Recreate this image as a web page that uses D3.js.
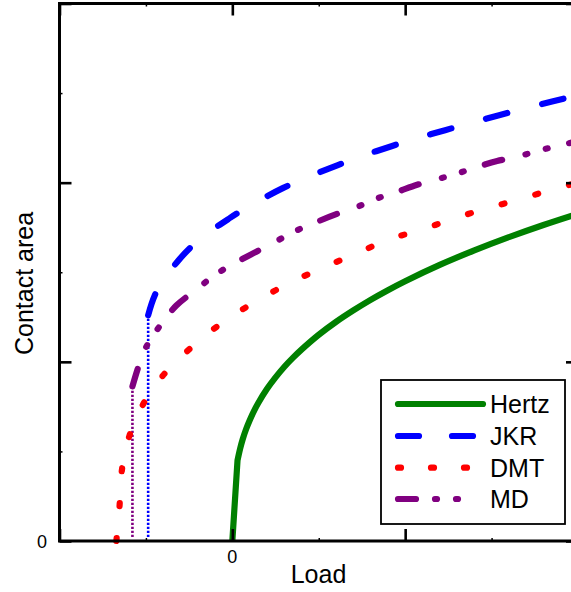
<!DOCTYPE html>
<html>
<head>
<meta charset="utf-8">
<script src="https://cdn.jsdelivr.net/npm/d3@7"></script>
<style>
  html, body { margin: 0; padding: 0; background: #fff; }
  svg { display: block; }
  text { font-family: "Liberation Sans", Arial, sans-serif; fill: #000; }
</style>
</head>
<body>
<svg id="chart" width="571" height="592"></svg>
<script>
// ---------- data ----------
const xDomain = [-1, 2];
const yDomain = [0, 3];
const xMajorTicks = [-1, 0, 1, 2];
const xMinorTicks = [-0.5, 0.5, 1.5];
const yMajorTicks = [0, 1, 2, 3];
const yMinorTicks = [0.5, 1.5, 2.5];
const xTickLabels = ["", "0", "", ""];
const yTickLabels = ["0", "", "", ""];
const xTitle = "Load";
const yTitle = "Contact area";

const seriesNames = ["Hertz", "JKR", "DMT", "MD"];
const seriesColors = ["#008000", "#0000ff", "#ff0000", "#800080"];

const hertzLoad = [0, 0.03, 0.045, 0.06, 0.08, 0.1, 0.125, 0.15, 0.2, 0.25, 0.3, 0.35, 0.4, 0.5, 0.6, 0.7, 0.8, 0.9, 1.0, 1.2, 1.4, 1.6, 1.8, 2.0];
const hertzArea = [0, 0.45, 0.515, 0.568, 0.625, 0.673, 0.725, 0.77, 0.848, 0.913, 0.971, 1.022, 1.068, 1.151, 1.223, 1.287, 1.346, 1.4, 1.45, 1.541, 1.622, 1.696, 1.764, 1.827];

const jkrLoad = [-0.487, -0.439, -0.318, -0.191, -0.012, 0.121, 0.295, 0.439, 0.607, 0.751, 0.925, 1.058, 1.231, 1.37, 1.538, 1.682, 1.85, 2.0];
const jkrArea = [1.26, 1.392, 1.559, 1.682, 1.804, 1.882, 1.971, 2.032, 2.097, 2.149, 2.205, 2.245, 2.293, 2.331, 2.375, 2.412, 2.453, 2.489];

const dmtLoad = [-0.671, -0.653, -0.642, -0.607, -0.532, -0.405, -0.225, -0.04, 0.145, 0.335, 0.526, 0.717, 0.902, 1.092, 1.277, 1.468, 1.653, 1.844, 2.0];
const dmtArea = [0, 0.189, 0.373, 0.551, 0.735, 0.919, 1.091, 1.231, 1.342, 1.442, 1.526, 1.604, 1.682, 1.737, 1.798, 1.856, 1.904, 1.96, 2.0];

const mdLoad = [-0.578, -0.543, -0.503, -0.422, -0.324, -0.208, -0.098, 0.029, 0.139, 0.26, 0.37, 0.491, 0.607, 0.723, 0.832, 0.954, 1.069, 1.191, 1.295, 1.416, 1.532, 1.647, 1.763, 1.884, 2.0];
const mdArea = [0.863, 0.974, 1.075, 1.197, 1.314, 1.403, 1.487, 1.559, 1.615, 1.676, 1.732, 1.782, 1.826, 1.865, 1.91, 1.949, 1.988, 2.021, 2.049, 2.088, 2.121, 2.144, 2.177, 2.205, 2.233];

// jump-in lines (vertical dotted) at start load of JKR and MD
const jumpLoads = [-0.487, -0.578];
const jumpAreas = [1.26, 0.863];
const jumpColors = ["#0000ff", "#800080"];

// ---------- drawing ----------
const svg = d3.select("#chart");
const x = d3.scaleLinear().domain(xDomain).range([59.5, 578]);
const y = d3.scaleLinear().domain(yDomain).range([541, 3.5]);

const toPts = (xs, ys) => xs.map((v, i) => [v, ys[i]]);
const smooth = d3.curveCatmullRom.alpha(0.5);
const series = [
  { pts: toPts(hertzLoad, hertzArea), dash: null, legDash: null },
  { pts: toPts(jkrLoad, jkrArea), dash: "22,36", legDash: "21,33" },
  { pts: toPts(dmtLoad, dmtArea), dash: "3,32", legDash: "3,30" },
  { pts: toPts(mdLoad, mdArea), dash: "18,24,2,19,2,22", legDash: "18,19,2,19,2,40" }
];

// vertical dotted lines
jumpLoads.forEach((p, i) => {
  svg.append("line")
    .attr("x1", x(p)).attr("x2", x(p))
    .attr("y1", y(0) - 4).attr("y2", y(jumpAreas[i]))
    .attr("stroke", jumpColors[i])
    .attr("stroke-width", 2.6)
    .attr("stroke-dasharray", "2.2,1.8");
});

// curves
series.forEach((s, i) => {
  const line = d3.line().x(d => x(d[0])).y(d => y(d[1])).curve(smooth);
  let d;
  if (i === 0) {
    const p0 = s.pts[0];
    d = `M${x(p0[0])},${y(p0[1])}L` + line(s.pts.slice(1)).slice(1);
  } else {
    d = line(s.pts);
  }
  svg.append("path")
    .attr("d", d)
    .attr("fill", "none")
    .attr("stroke", seriesColors[i])
    .attr("stroke-width", 6.2)
    .attr("stroke-linecap", i === 0 ? "butt" : "round")
    .attr("stroke-linejoin", "round")
    .attr("stroke-dasharray", s.dash);
});

// axes (ticks inward on all 4 sides); tick labels drawn separately
function styleAxis(g) {
  g.select(".domain").remove();
  g.selectAll(".tick line").attr("stroke", "#000").attr("stroke-width", 2.6);
  g.selectAll(".tick text").remove();
}
function minor(g) {
  g.select(".domain").remove();
  g.selectAll(".tick line").attr("stroke", "#000").attr("stroke-width", 1.5);
  g.selectAll(".tick text").remove();
}

svg.append("g").attr("transform", `translate(0,${y(0)})`)
  .call(d3.axisBottom(x).tickValues(xMajorTicks).tickSizeInner(-12).tickSizeOuter(0)).call(styleAxis);
svg.append("g").attr("transform", `translate(0,${y(0)})`)
  .call(d3.axisBottom(x).tickValues(xMinorTicks).tickSizeInner(-3).tickSizeOuter(0)).call(minor);
svg.append("g").attr("transform", `translate(0,${y(3)})`)
  .call(d3.axisTop(x).tickValues(xMajorTicks).tickSizeInner(-12).tickSizeOuter(0)).call(styleAxis);
svg.append("g").attr("transform", `translate(0,${y(3)})`)
  .call(d3.axisTop(x).tickValues(xMinorTicks).tickSizeInner(-3).tickSizeOuter(0)).call(minor);
svg.append("g").attr("transform", `translate(${x(-1)},0)`)
  .call(d3.axisLeft(y).tickValues(yMajorTicks).tickSizeInner(-12).tickSizeOuter(0)).call(styleAxis);
svg.append("g").attr("transform", `translate(${x(-1)},0)`)
  .call(d3.axisLeft(y).tickValues(yMinorTicks).tickSizeInner(-3).tickSizeOuter(0)).call(minor);
svg.append("g").attr("transform", `translate(${x(2)},0)`)
  .call(d3.axisRight(y).tickValues(yMajorTicks).tickSizeInner(-12).tickSizeOuter(0)).call(styleAxis);
svg.append("g").attr("transform", `translate(${x(2)},0)`)
  .call(d3.axisRight(y).tickValues(yMinorTicks).tickSizeInner(-3).tickSizeOuter(0)).call(minor);

// tick labels
svg.append("g").selectAll("text")
  .data(xMajorTicks.map((v, i) => ({ v, t: xTickLabels[i] })).filter(d => d.t !== ""))
  .join("text")
  .attr("x", d => x(d.v)).attr("y", 563)
  .attr("text-anchor", "middle")
  .attr("font-size", 18)
  .text(d => d.t);
svg.append("g").selectAll("text")
  .data(yMajorTicks.map((v, i) => ({ v, t: yTickLabels[i] })).filter(d => d.t !== ""))
  .join("text")
  .attr("x", 47).attr("y", d => y(d.v) + 6.5)
  .attr("text-anchor", "end")
  .attr("font-size", 18)
  .text(d => d.t);

// frame
svg.append("rect")
  .attr("x", x(-1)).attr("y", y(3))
  .attr("width", x(2) - x(-1)).attr("height", y(0) - y(3))
  .attr("fill", "none").attr("stroke", "#000").attr("stroke-width", 3);

// axis titles
svg.append("text").attr("x", 318.5).attr("y", 583).attr("text-anchor", "middle")
  .attr("font-size", 25).text(xTitle);
svg.append("text").attr("transform", "translate(33,283.5) rotate(-90)").attr("text-anchor", "middle")
  .attr("font-size", 25).text(yTitle);

// legend
const leg = svg.append("g");
leg.append("rect").attr("x", 381).attr("y", 380).attr("width", 184).attr("height", 144)
  .attr("fill", "#fff").attr("stroke", "#000").attr("stroke-width", 1.8);
const rowY = [404, 436, 467.7, 499];
seriesNames.forEach((name, i) => {
  leg.append("line")
    .attr("x1", 398).attr("x2", 483)
    .attr("y1", rowY[i]).attr("y2", rowY[i])
    .attr("stroke", seriesColors[i]).attr("stroke-width", 6.2)
    .attr("stroke-linecap", "round")
    .attr("stroke-dasharray", series[i].legDash);
  leg.append("text").attr("x", 490).attr("y", rowY[i] + 9)
    .attr("font-size", 25).text(name);
});
</script>
</body>
</html>
